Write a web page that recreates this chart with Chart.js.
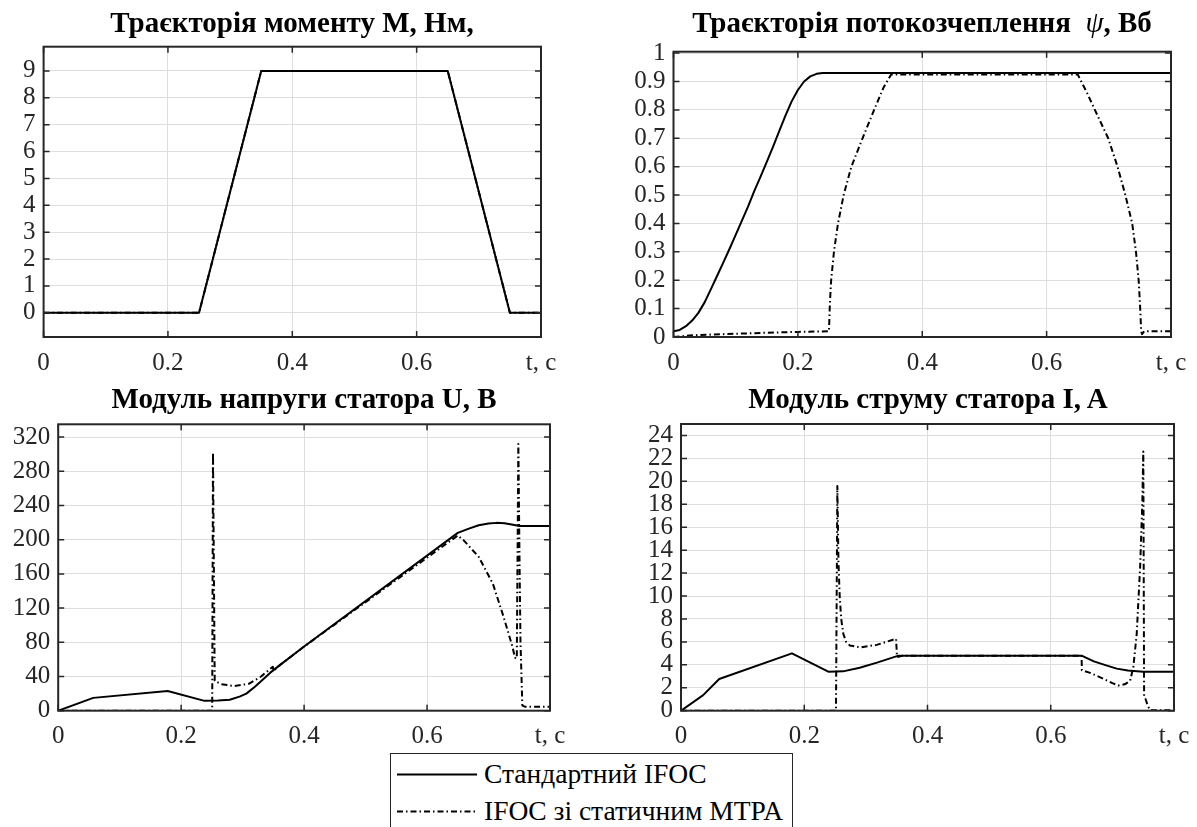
<!DOCTYPE html>
<html lang="uk">
<head>
<meta charset="UTF-8">
<title>IFOC / MTPA</title>
<script src="https://cdn.jsdelivr.net/npm/chart.js"></script>
<style>
  body { margin: 0; background: #fff; overflow: hidden; font-family: "Liberation Serif", "Times New Roman", serif; }
  canvas { position: absolute; }
  .title { position: absolute; width: 600px; text-align: center; font-family: "Liberation Serif", serif; font-weight: bold; font-size: 29px; line-height: 29px; color: #000; white-space: nowrap; }
  .title i { font-weight: normal; }
  #legend { position: absolute; left: 390px; top: 753px; width: 401px; height: 100px; border: 1px solid #262626; background: #fff; }
  #legend svg { position: absolute; left: 0; top: 0; }
  #legend span { position: absolute; left: 93px; font-family: "Liberation Serif", serif; font-size: 27.5px; line-height: 27.5px; color: #000; white-space: nowrap; }
</style>
</head>
<body>

<canvas id="cM" width="600" height="390" style="left:0;top:0"></canvas>
<canvas id="cPsi" width="597" height="390" style="left:600px;top:0"></canvas>
<canvas id="cU" width="600" height="380" style="left:0;top:375px"></canvas>
<canvas id="cI" width="597" height="380" style="left:600px;top:375px"></canvas>

<div class="title" style="left:-8px;top:8px">Траєкторія моменту М, Нм,</div>
<div class="title" style="left:622px;top:8px">Траєкторія потокозчеплення&nbsp; <i>ψ</i>, Вб</div>
<div class="title" style="left:4px;top:384px">Модуль напруги статора U, B</div>
<div class="title" style="left:628px;top:384px">Модуль струму статора I, A</div>

<div id="legend">
  <svg width="401" height="80">
    <line x1="6" y1="20.5" x2="86" y2="20.5" stroke="#000" stroke-width="2"/>
    <line x1="6" y1="57.5" x2="86" y2="57.5" stroke="#000" stroke-width="2" stroke-dasharray="6 3 1.5 3"/>
  </svg>
  <span style="top:6px">Стандартний IFOC</span>
  <span style="top:43px">IFOC зі статичним MTPA</span>
</div>

<script>
// time axis
const xTicks = [0, 0.2, 0.4, 0.6, 0.8];
const xTickLabels = ['0', '0.2', '0.4', '0.6', 't, c'];

// torque trajectory (same for both controllers)
const tTorque = [0, 0.25, 0.35, 0.65, 0.75, 0.8];
const mTorque = [0, 0, 9, 9, 0, 0];
const yTicksM = [0, 1, 2, 3, 4, 5, 6, 7, 8, 9];

// flux linkage
const tPsiStd = [0, 0.01, 0.02, 0.03, 0.04, 0.05, 0.06, 0.07, 0.08, 0.09, 0.1, 0.11, 0.12, 0.13, 0.14, 0.15, 0.16, 0.17,
                 0.18, 0.19, 0.2, 0.21, 0.22, 0.23, 0.24, 0.8];
const psiStd  = [0.02, 0.025, 0.038, 0.058, 0.085, 0.122, 0.168, 0.215, 0.262, 0.31, 0.36, 0.41, 0.46, 0.515, 0.565, 0.617,
                 0.67, 0.725, 0.78, 0.83, 0.87, 0.9, 0.918, 0.927, 0.93, 0.93];
const tPsiMtpa = [0, 0.03, 0.08, 0.15, 0.2, 0.25, 0.2515, 0.2535, 0.258, 0.2645, 0.2736, 0.286, 0.304, 0.3226, 0.338, 0.35,
                  0.65, 0.665, 0.6776, 0.699, 0.714, 0.7266, 0.7376, 0.7437, 0.748, 0.7505, 0.752, 0.7535, 0.757, 0.8];
const psiMtpa  = [0, 0.006, 0.01, 0.015, 0.018, 0.02, 0.12, 0.2, 0.3, 0.4, 0.5, 0.6, 0.7, 0.8, 0.88, 0.925,
                  0.925, 0.86, 0.8, 0.7, 0.6, 0.5, 0.4, 0.3, 0.2, 0.1, 0.02, 0.01, 0.02, 0.02];
const yTicksPsi = [0, 0.1, 0.2, 0.3, 0.4, 0.5, 0.6, 0.7, 0.8, 0.9, 1];

// stator voltage
const tUStd = [0, 0.057, 0.178, 0.238, 0.26, 0.279, 0.295, 0.306, 0.32, 0.333, 0.345, 0.36, 0.4, 0.65, 0.668, 0.684, 0.7, 0.713, 0.726, 0.74, 0.75, 0.8];
const uStd  = [0, 15, 23, 11.5, 11.8, 12.8, 16.5, 20, 28, 36.5, 44.5, 53, 75, 208, 213, 217, 219, 219.7, 219.3, 217.5, 216, 216];
const tUMtpa = [0, 0.2505, 0.2518, 0.2546, 0.265, 0.287, 0.31, 0.33, 0.349, 0.3505, 0.36, 0.4, 0.65,
                0.66, 0.684, 0.707, 0.7245, 0.739, 0.743, 0.746, 0.7485, 0.7505, 0.752, 0.755, 0.76, 0.8];
const uMtpa  = [0, 0, 302, 35, 31, 28.8, 31.5, 40, 51.4, 46.5, 53, 75, 205,
                199, 180, 148.7, 109.8, 74.7, 62, 61, 312, 170, 80, 6, 4.5, 4.5];
const yTicksU = [0, 40, 80, 120, 160, 200, 240, 280, 320];

// stator current
const tIStd = [0, 0.036, 0.062, 0.18, 0.239, 0.263, 0.29, 0.318, 0.353, 0.65, 0.67, 0.69, 0.707, 0.725, 0.75, 0.8];
const iStd  = [0, 1.36, 2.77, 5.0, 3.4, 3.43, 3.75, 4.19, 4.8, 4.8, 4.3, 3.95, 3.67, 3.5, 3.4, 3.4];
const tIMtpa = [0, 0.2515, 0.2537, 0.2555, 0.2575, 0.26, 0.2634, 0.268, 0.274, 0.2905, 0.3176, 0.349, 0.3505, 0.36, 0.65,
                0.6505, 0.664, 0.685, 0.7, 0.71, 0.72, 0.7287, 0.734, 0.7395, 0.745, 0.7486, 0.7502, 0.7515, 0.754, 0.757, 0.761, 0.8];
const iMtpa  = [0, 0, 19.6, 13, 10, 8, 6.7, 6.0, 5.69, 5.52, 5.74, 6.27, 4.68, 4.8, 4.8,
                3.52, 3.3, 2.8, 2.4, 2.2, 2.3, 2.6, 3.8, 6.7, 12.5, 18.2, 22.6, 1.2, 1.0, 0.5, 0.05, 0.05];
const yTicksI = [0, 2, 4, 6, 8, 10, 12, 14, 16, 18, 20, 22, 24];

const axisColor = '#262626';
const gridColor = '#dedede';
const tickFont = { family: '"Liberation Serif", serif', size: 25 };
const dashDot = [6, 3, 1.5, 3];

// MATLAB-like box with inward ticks on all sides
const boxPlugin = {
  id: 'matlabBox',
  afterDraw(chart) {
    const { ctx, chartArea: a, scales: { x, y } } = chart;
    ctx.save();
    ctx.strokeStyle = axisColor;
    ctx.lineWidth = 1.5;
    ctx.beginPath();
    x.ticks.forEach(tk => {
      const px = x.getPixelForValue(tk.value);
      ctx.moveTo(px, a.bottom); ctx.lineTo(px, a.bottom - 6);
      ctx.moveTo(px, a.top); ctx.lineTo(px, a.top + 6);
    });
    y.ticks.forEach(tk => {
      const py = y.getPixelForValue(tk.value);
      ctx.moveTo(a.left, py); ctx.lineTo(a.left + 6, py);
      ctx.moveTo(a.right, py); ctx.lineTo(a.right - 6, py);
    });
    ctx.stroke();
    ctx.lineWidth = 2;
    ctx.strokeRect(a.left, a.top, a.right - a.left, a.bottom - a.top);
    ctx.restore();
  }
};

function pts(t, v) { return t.map((tt, i) => ({ x: tt, y: v[i] })); }

function makePanel(id, box, area, series, yTicks, yMin, yMax) {
  const yw = area.l - box.x, xh = box.y + box.h - area.b;
  new Chart(document.getElementById(id), {
    type: 'line',
    data: {
      datasets: series.map(s => ({
        data: pts(s.t, s.v),
        borderColor: '#000',
        borderWidth: 2,
        borderDash: s.dash ? dashDot : [],
        pointRadius: 0,
        tension: 0,
        borderJoinStyle: 'round',
        fill: false
      }))
    },
    options: {
      responsive: false,
      animation: false,
      devicePixelRatio: 1,
      layout: { padding: { left: 0, top: area.t - box.y, right: box.x + box.w - area.r, bottom: 0 } },
      plugins: { legend: { display: false }, tooltip: { enabled: false }, title: { display: false } },
      scales: {
        x: {
          type: 'linear', min: 0, max: 0.8,
          afterBuildTicks: s => { s.ticks = xTicks.map(v => ({ value: v })); },
          afterFit: s => { s.height = xh; s.paddingLeft = 0; s.paddingRight = 0; },
          grid: { color: gridColor, lineWidth: 1, drawTicks: false },
          border: { display: false },
          ticks: { padding: 11, font: tickFont, color: axisColor, maxRotation: 0, autoSkip: false,
                   callback: v => xTickLabels[xTicks.indexOf(v)] }
        },
        y: {
          type: 'linear', min: yMin, max: yMax,
          afterBuildTicks: s => { s.ticks = yTicks.map(v => ({ value: v })); },
          afterFit: s => { s.width = yw; s.paddingTop = 0; s.paddingBottom = 0; },
          grid: { color: gridColor, lineWidth: 1, drawTicks: false },
          border: { display: false },
          ticks: { padding: 8, font: tickFont, color: axisColor, autoSkip: false,
                   callback: v => String(+v.toFixed(2)) }
        }
      }
    },
    plugins: [boxPlugin]
  });
}

makePanel('cM', { x: 0, y: 0, w: 600, h: 390 }, { l: 43.6, t: 46.7, r: 541, b: 337 },
  [{ t: tTorque, v: mTorque, dash: true }, { t: tTorque, v: mTorque, dash: false }], yTicksM, -0.9, 9.9);

makePanel('cPsi', { x: 600, y: 0, w: 597, h: 390 }, { l: 673.5, t: 51.7, r: 1171, b: 337 },
  [{ t: tPsiMtpa, v: psiMtpa, dash: true }, { t: tPsiStd, v: psiStd, dash: false }], yTicksPsi, 0, 1.005);

makePanel('cU', { x: 0, y: 375, w: 600, h: 380 }, { l: 58.2, t: 424.3, r: 550, b: 710.7 },
  [{ t: tUMtpa, v: uMtpa, dash: true }, { t: tUStd, v: uStd, dash: false }], yTicksU, 0, 335);

makePanel('cI', { x: 600, y: 375, w: 597, h: 380 }, { l: 681, t: 424, r: 1174, b: 710.7 },
  [{ t: tIMtpa, v: iMtpa, dash: true }, { t: tIStd, v: iStd, dash: false }], yTicksI, 0, 25);
</script>
</body>
</html>
